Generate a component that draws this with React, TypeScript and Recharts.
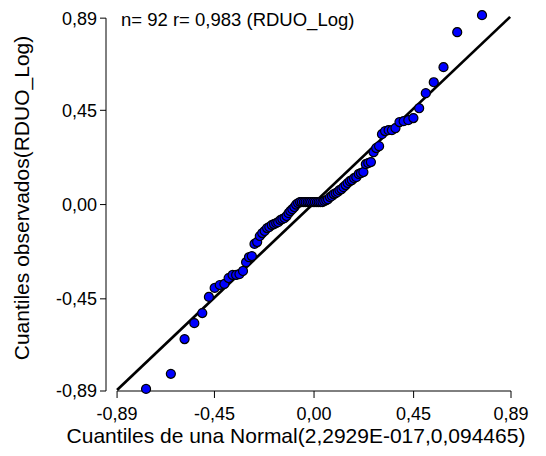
import { ScatterChart, Scatter, XAxis, YAxis, ZAxis, ReferenceLine } from "recharts";

const FONT = '"Liberation Sans", Arial, Helvetica, sans-serif';

const normalQuantiles = [
  -0.759, -0.647, -0.585, -0.541, -0.505, -0.475, -0.449, -0.426, -0.405, -0.386,
  -0.368, -0.352, -0.337, -0.321, -0.307, -0.294, -0.281, -0.269, -0.257, -0.245,
  -0.234, -0.223, -0.212, -0.202, -0.191, -0.181, -0.171, -0.162, -0.152, -0.143,
  -0.133, -0.124, -0.115, -0.107, -0.098, -0.089, -0.081, -0.072, -0.063, -0.055,
  -0.046, -0.038, -0.029, -0.021, -0.013, -0.004,
  0.004, 0.013, 0.021, 0.029, 0.038, 0.046, 0.055, 0.063, 0.072, 0.081,
  0.089, 0.098, 0.107, 0.115, 0.124, 0.133, 0.143, 0.152, 0.162, 0.171,
  0.181, 0.191, 0.202, 0.212, 0.223, 0.234, 0.245, 0.257, 0.269, 0.281,
  0.294, 0.307, 0.321, 0.337, 0.352, 0.368, 0.386, 0.405, 0.426, 0.449,
  0.475, 0.505, 0.541, 0.585, 0.647, 0.759,
];

const observed = [
  -0.880, -0.808, -0.642, -0.566, -0.518, -0.441, -0.398, -0.384, -0.379, -0.351,
  -0.336, -0.336, -0.332, -0.317, -0.275, -0.251, -0.246, -0.188, -0.179, -0.150,
  -0.136, -0.126, -0.112, -0.107, -0.098, -0.093, -0.088, -0.084, -0.074, -0.069,
  -0.064, -0.055, -0.041, -0.031, -0.022, -0.012, 0.000, 0.007,
  0.012, 0.012, 0.012, 0.012, 0.012, 0.012, 0.012, 0.012, 0.012, 0.012,
  0.012, 0.012, 0.012,
  0.017, 0.021, 0.026, 0.036, 0.041, 0.050, 0.055, 0.060, 0.069, 0.074,
  0.083, 0.093, 0.103, 0.112, 0.117, 0.126, 0.131, 0.146, 0.150, 0.155,
  0.193, 0.198, 0.203, 0.250, 0.270, 0.279, 0.336, 0.351, 0.355, 0.355,
  0.365, 0.394, 0.398, 0.403, 0.413, 0.460, 0.532, 0.584, 0.656, 0.823,
  0.904,
];

const axisTicks = [-0.89, -0.45, 0, 0.45, 0.89];
const xDomain = [-0.94, 0.89];
const yDomain = [-0.89, 0.905];

// reference line of the QQ plot
const fitLine = [
  { x: -0.89, y: -0.885 },
  { x: 0.886, y: 0.896 },
];

const points = normalQuantiles.map((x, i) => ({ x, y: observed[i] }));

const fmt = (v: number) => v.toFixed(2).replace(".", ",");

const tickStyle = { fill: "#000", fontSize: 18, fontFamily: FONT };

export default function App() {
  return (
    <div style={{ position: "absolute", left: 0, top: 0, width: 546, height: 456, background: "#fff" }}>
      <ScatterChart width={546} height={456} margin={{ top: 15, right: 35, bottom: 0, left: 0 }}>
        <XAxis
          type="number"
          dataKey="x"
          domain={xDomain}
          ticks={axisTicks}
          tickFormatter={fmt}
          axisLine={false}
          tickLine={{ stroke: "#000" }}
          tickSize={7}
          tickMargin={9}
          height={65}
          tick={tickStyle}
        />
        <YAxis
          type="number"
          dataKey="y"
          domain={yDomain}
          ticks={axisTicks}
          tickFormatter={fmt}
          axisLine={false}
          tickLine={{ stroke: "#000" }}
          tickSize={6}
          tickMargin={3}
          width={106}
          tick={tickStyle}
        />
        <ZAxis range={[80, 80]} />
        <ReferenceLine
          segment={[{ x: xDomain[0], y: -0.89 }, { x: xDomain[0], y: 0.89 }]}
          stroke="#000"
          strokeWidth={1}
          ifOverflow="visible"
        />
        <ReferenceLine
          segment={[{ x: -0.89, y: -0.89 }, { x: 0.89, y: -0.89 }]}
          stroke="#000"
          strokeWidth={1}
          ifOverflow="visible"
        />
        <ReferenceLine segment={fitLine} stroke="#000" strokeWidth={2.7} ifOverflow="visible" />
        <Scatter data={points} fill="#0000ff" stroke="#000" strokeWidth={1.2} isAnimationActive={false} />
      </ScatterChart>
      <svg
        width={546}
        height={456}
        style={{ position: "absolute", left: 0, top: 0, pointerEvents: "none" }}
      >
        <text x={121} y={26} fontSize={18.5} fontFamily={FONT} fill="#000">
          n= 92 r= 0,983 (RDUO_Log)
        </text>
        <text x={296} y={443} fontSize={21} fontFamily={FONT} fill="#000" textAnchor="middle">
          Cuantiles de una Normal(2,2929E-017,0,094465)
        </text>
        <text
          x={29}
          y={198}
          fontSize={21}
          fontFamily={FONT}
          fill="#000"
          textAnchor="middle"
          transform="rotate(-90 29 198)"
        >
          Cuantiles observados(RDUO_Log)
        </text>
      </svg>
    </div>
  );
}
